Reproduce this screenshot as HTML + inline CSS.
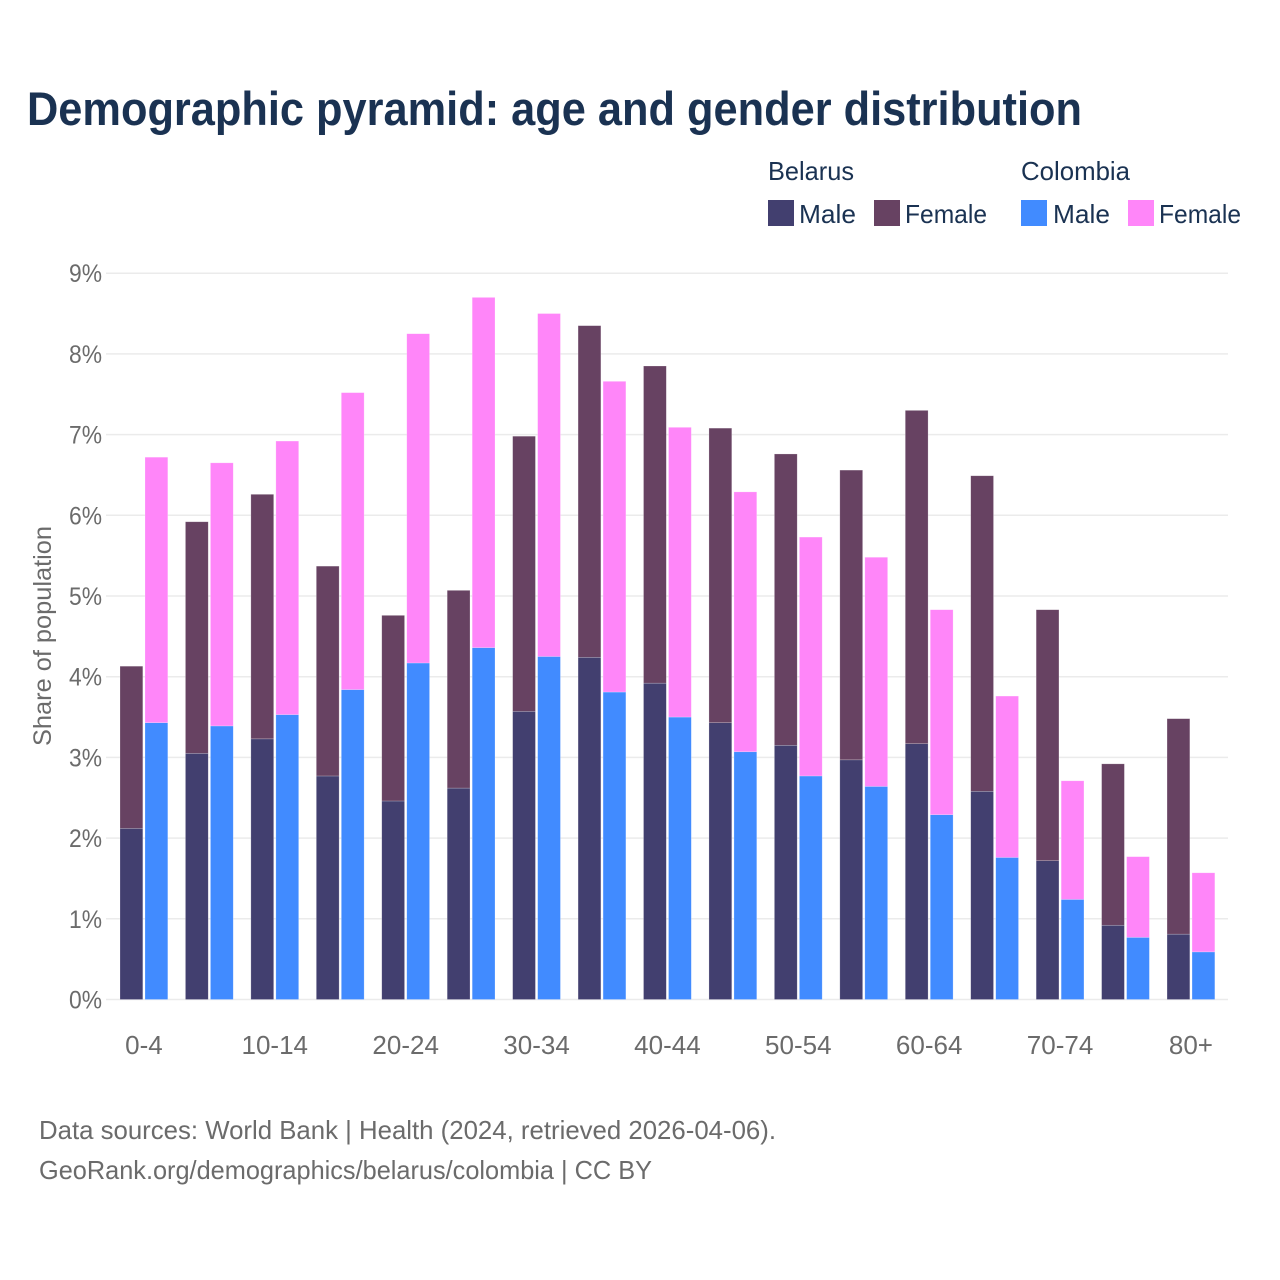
<!DOCTYPE html>
<html lang="en">
<head>
<meta charset="utf-8">
<title>Demographic pyramid: age and gender distribution</title>
<style>
html,body{margin:0;padding:0;background:#fff;width:1280px;height:1280px;overflow:hidden}
svg{display:block}
text{font-family:"Liberation Sans",sans-serif}
</style>
</head>
<body>
<svg id="chart" xmlns="http://www.w3.org/2000/svg" width="1280" height="1280" viewBox="0 0 1280 1280">
  <rect x="0" y="0" width="1280" height="1280" fill="#ffffff"/>
  <text x="27" y="125" font-size="47" font-weight="700" fill="#1a3252" textLength="1055" lengthAdjust="spacingAndGlyphs">Demographic pyramid: age and gender distribution</text>

  <g fill="#1a3252" font-size="26">
    <text x="768" y="180" textLength="86" lengthAdjust="spacingAndGlyphs">Belarus</text>
    <text x="1021" y="180" textLength="109" lengthAdjust="spacingAndGlyphs">Colombia</text>
    <rect x="768" y="200" width="26" height="26" fill="#423f6f"/>
    <text x="799" y="223" textLength="57" lengthAdjust="spacingAndGlyphs">Male</text>
    <rect x="874" y="200" width="26" height="26" fill="#674262"/>
    <text x="905" y="223" textLength="82" lengthAdjust="spacingAndGlyphs">Female</text>
    <rect x="1021" y="200" width="26" height="26" fill="#418bff"/>
    <text x="1053" y="223" textLength="57" lengthAdjust="spacingAndGlyphs">Male</text>
    <rect x="1128" y="200" width="26" height="26" fill="#ff86f9"/>
    <text x="1159" y="223" textLength="82" lengthAdjust="spacingAndGlyphs">Female</text>
  </g>

  <g id="grid"></g>
  <g id="yticks"></g>
  <g id="bars"></g>
  <g id="xticks"></g>

  <text transform="translate(51,636) rotate(-90)" text-anchor="middle" font-size="25" fill="#6b6b6b" textLength="220" lengthAdjust="spacingAndGlyphs">Share of population</text>

  <text x="39" y="1139" font-size="26" fill="#6b6b6b" textLength="737" lengthAdjust="spacingAndGlyphs">Data sources: World Bank | Health (2024, retrieved 2026-04-06).</text>
  <text x="39" y="1179" font-size="26" fill="#6b6b6b" textLength="613" lengthAdjust="spacingAndGlyphs">GeoRank.org/demographics/belarus/colombia | CC BY</text>
</svg>
<script>
const categories = ['0-4','5-9','10-14','15-19','20-24','25-29','30-34','35-39','40-44','45-49','50-54','55-59','60-64','65-69','70-74','75-79','80+'];
const belarusMale = [2.12,3.05,3.23,2.77,2.46,2.62,3.57,4.24,3.92,3.43,3.15,2.97,3.17,2.58,1.72,0.92,0.81];
const belarusFemale = [2.01,2.87,3.03,2.60,2.30,2.45,3.41,4.11,3.93,3.65,3.61,3.59,4.13,3.91,3.11,2.00,2.67];
const colombiaMale = [3.43,3.39,3.53,3.84,4.17,4.36,4.25,3.81,3.50,3.07,2.77,2.64,2.29,1.76,1.24,0.77,0.59];
const colombiaFemale = [3.29,3.26,3.39,3.68,4.08,4.34,4.25,3.85,3.59,3.22,2.96,2.84,2.54,2.00,1.47,1.00,0.98];
const yTicks = [0,1,2,3,4,5,6,7,8,9];

const NS = 'http://www.w3.org/2000/svg';
const PLOT_LEFT = 106, PLOT_RIGHT = 1228, ZERO_Y = 999.5, UNIT_Y = 80.7;
const FIRST_BAR_X = 120, GROUP_STEP = 65.44, BAR_W = 22.8, BAR_GAP = 2.2;

function yScale(v) { return ZERO_Y - v * UNIT_Y; }
function groupX(i) { return FIRST_BAR_X + i * GROUP_STEP; }
function make(tag, parent) {
  const el = document.createElementNS(NS, tag);
  parent.appendChild(el);
  return el;
}
function drawSegment(x, bottomValue, value, fill, group) {
  const r = make('rect', group);
  const top = yScale(bottomValue + value);
  r.setAttribute('x', x);
  r.setAttribute('y', top);
  r.setAttribute('width', BAR_W);
  r.setAttribute('height', yScale(bottomValue) - top);
  r.setAttribute('fill', fill);
  r.setAttribute('stroke', '#ffffff');
  r.setAttribute('stroke-opacity', '0.35');
  r.setAttribute('stroke-width', '0.6');
  return r;
}

const gridG = document.getElementById('grid');
const yTickG = document.getElementById('yticks');
yTicks.forEach(function (t) {
  const l = make('line', gridG);
  
  
  l.setAttribute('x1', PLOT_LEFT);
  l.setAttribute('x2', PLOT_RIGHT);
  l.setAttribute('y1', yScale(t));
  l.setAttribute('y2', yScale(t));
  l.setAttribute('stroke', '#ebebeb');
  l.setAttribute('stroke-width', '1.5');
  const tx = make('text', yTickG);
  
  
  tx.setAttribute('x', 69);
  tx.setAttribute('y', yScale(t) + 9);
  tx.setAttribute('font-size', '25');
  tx.setAttribute('fill', '#6b6b6b');
  tx.setAttribute('textLength', '33');
  tx.setAttribute('lengthAdjust', 'spacingAndGlyphs');
  tx.textContent = t + '%';
});

const barsG = document.getElementById('bars');
const xTickG = document.getElementById('xticks');
categories.forEach(function (cat, i) {
  const x1 = groupX(i);
  const x2 = x1 + BAR_W + BAR_GAP;

  const a = drawSegment(x1, 0, belarusMale[i], '#423f6f', barsG);
  
  

  const b = drawSegment(x1, belarusMale[i], belarusFemale[i], '#674262', barsG);
  
  

  const c = drawSegment(x2, 0, colombiaMale[i], '#418bff', barsG);
  
  

  const d = drawSegment(x2, colombiaMale[i], colombiaFemale[i], '#ff86f9', barsG);
  
  

  if (i % 2 === 0) {
    const tx = make('text', xTickG);
    
    
    tx.setAttribute('x', x1 + BAR_W + BAR_GAP / 2);
    tx.setAttribute('y', 1054);
    tx.setAttribute('text-anchor', 'middle');
    tx.setAttribute('font-size', '26');
    tx.setAttribute('fill', '#6b6b6b');
    tx.textContent = cat;
  }
});
</script>
</body>
</html>
